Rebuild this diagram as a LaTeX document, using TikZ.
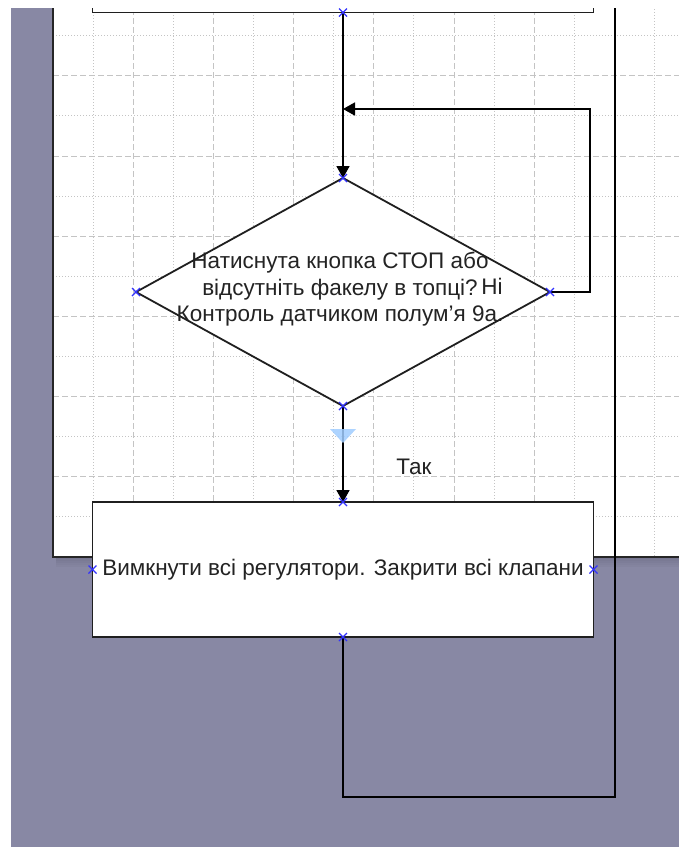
\documentclass[tikz,border=0pt]{standalone}
\usepackage{fontspec}
\setmainfont{Liberation Sans}
\usetikzlibrary{shapes.geometric,arrows.meta}
\definecolor{bgpurple}{RGB}{136,136,164}
\definecolor{shadowc}{RGB}{105,105,130}
\definecolor{gridc}{RGB}{196,196,196}
\definecolor{markc}{RGB}{50,50,255}
\definecolor{tric}{RGB}{160,205,255}
\definecolor{txtc}{RGB}{35,35,35}
\begin{document}
\begin{tikzpicture}[x=1pt,y=-1pt,
  shapebox/.style={draw=black!88, line width=1.8pt, fill=white, inner sep=0pt, outer sep=0pt},
  conn/.style={line width=1.8pt, black},
  arr/.style={conn, -{Triangle[length=12pt,width=13pt]}},
  lbl/.style={font=\fontsize{22.5}{26.5}\selectfont, text=txtc, inner sep=0pt},
  xmk/.style={markc, line width=1.1pt},
  dotgrid/.style={gridc, line width=1pt, dash pattern=on 1.2pt off 1.8pt},
  dashgrid/.style={gridc, line width=1pt, dash pattern=on 6pt off 3pt}
]
\useasboundingbox (0,0) rectangle (679,847);
\fill[white] (0,0) rectangle (679,847);
\begin{scope}
\clip (11,8) rectangle (679,847);
\fill[bgpurple] (11,8) rectangle (679,847);
% page shadow
\foreach \i/\o in {0/0.55,2/0.45,4/0.33,6/0.22,8/0.12}{
  \fill[shadowc, opacity=\o] (56,557+\i) rectangle (700,559+\i);
}
% page
\fill[white] (53,-20) rectangle (700,557);
\begin{scope}
\clip (53,8) rectangle (700,557);
\foreach \k in {1,...,15}{
  \pgfmathsetmacro\xx{53+40.1*\k}
  \ifodd\k
    \draw[dotgrid] (\xx,0) -- (\xx,557);
  \else
    \draw[dashgrid] (\xx,0) -- (\xx,557);
  \fi
}
\foreach \k in {1,...,14}{
  \pgfmathsetmacro\yy{557-40.1*\k}
  \ifodd\k
    \draw[dotgrid] (53,\yy) -- (700,\yy);
  \else
    \draw[dashgrid] (53,\yy) -- (700,\yy);
  \fi
}
\end{scope}
\draw[line width=2.2pt, black!85] (53,-20) -- (53,557) -- (700,557);

% shapes
\node[shapebox, minimum width=501pt, minimum height=100pt] (start) at (343,-37.5) {};
\node[shapebox, shape=diamond, minimum width=414pt, minimum height=228pt] (dec) at (343,292) {};
\node[shapebox, minimum width=501pt, minimum height=135pt] (act) at (343,569.5) {};

% connectors
\coordinate (join) at (343,109);
\coordinate (loopend) at (615,0);
\draw[arr] (start.south) -- (dec.north);
\draw[arr] (dec.east) -- ++(40,0) |- (join);
\draw[arr] (dec.south) -- (act.north);
\draw[conn, line width=2pt] (act.south) -- ++(0,160) -| (loopend);

% text
\node[lbl, align=center] (dectext) at (340,289.5) {Натиснута кнопка СТОП або\\відсутніть факелу в топці?\\Контроль датчиком полум’я 9а.};
\node[lbl] (no) at (492,286) {Ні};
\node[lbl] (yes) at (414,467) {Так};
\node[lbl] (acttext) at (343,570) {Вимкнути всі регулятори. Закрити всі клапани};

% text handle
\fill[tric, opacity=0.85] (330,429) -- (356,429) -- (343,443) -- cycle;

% connection points
\foreach \p in {start.south, dec.north, dec.west, dec.east, dec.south, act.north, act.west, act.east, act.south}{
  \draw[xmk] (\p) +(-4,-4) -- +(4,4) +(-4,4) -- +(4,-4);
}
\end{scope}
\end{tikzpicture}
\end{document}
